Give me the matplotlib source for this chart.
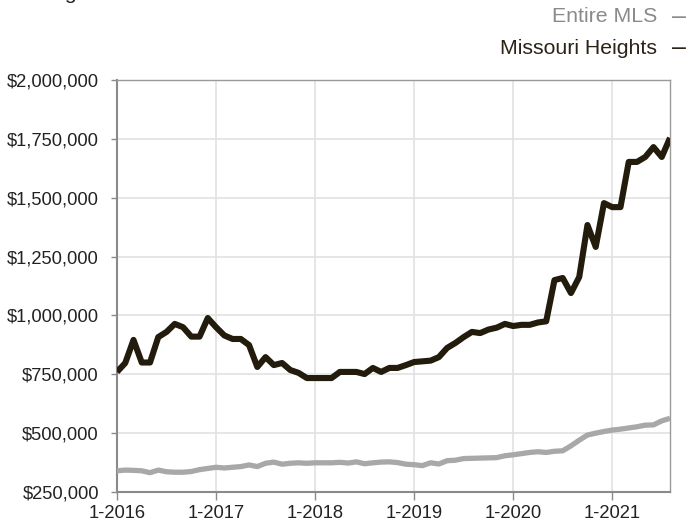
import matplotlib
matplotlib.use("Agg")
import matplotlib.pyplot as plt
from matplotlib.ticker import FuncFormatter

plt.rcParams["font.family"] = ["Liberation Sans", "DejaVu Sans"]

# Monthly median price, Jan 2016 .. Aug 2021
years = ["1-2016", "1-2017", "1-2018", "1-2019", "1-2020", "1-2021"]

missouri_heights = [
    760, 798, 896, 800, 800, 908, 930, 964, 950, 910, 910, 989,
    950, 915, 900, 900, 874, 781, 823, 789, 798, 768, 756, 734,
    734, 734, 734, 760, 760, 760, 751, 777, 760, 777, 777, 789,
    802, 805, 808, 823, 862, 883, 908, 930, 925, 940, 948, 964,
    955, 960, 960, 970, 975, 1150, 1159, 1095, 1163, 1384, 1291, 1477,
    1460, 1460, 1652, 1652, 1673, 1715, 1673, 1754,
]

entire_mls = [
    340, 343, 342, 340, 332, 343, 336, 334, 334, 337, 345, 350,
    355, 352, 355, 358, 365, 358, 372, 377, 368, 372, 374, 372,
    374, 374, 374, 376, 373, 378, 370, 374, 377, 378, 375, 368,
    366, 362, 374, 369, 383, 385, 392, 393, 394, 395, 396, 404,
    408, 413, 418, 421, 418, 423, 425, 446, 470, 492, 500, 507,
    513, 517, 522, 527, 534, 535, 552, 563,
]

months = list(range(len(missouri_heights)))
mh = [v * 1000 for v in missouri_heights]
mls = [v * 1000 for v in entire_mls]

W, H = 688, 525
fig = plt.figure(figsize=(W / 100, H / 100), dpi=100)
ax = fig.add_axes([117 / W, (H - 492) / H, (670 - 117) / W, (492 - 80) / H])

ax.plot(months, mls, color="#a8a8a8", lw=3.8, solid_joinstyle="round",
        solid_capstyle="butt", zorder=3)
ax.plot(months, mh, color="#231c0c", lw=4.4, solid_joinstyle="round",
        solid_capstyle="butt", zorder=4)

ax.set_xlim(0, len(months) - 1)
ax.set_ylim(250000, 2000000)
ax.set_xticks(list(range(0, len(months), 12)))
ax.set_xticklabels(years)
ax.set_yticks(range(250000, 2000001, 250000))
ax.yaxis.set_major_formatter(FuncFormatter(lambda v, p: f"${v:,.0f}"))

ax.grid(True, color="#e2e2e2", lw=1.2)
ax.set_axisbelow(True)
for side in ["top", "right"]:
    ax.spines[side].set_color("#9a9a9a")
    ax.spines[side].set_linewidth(1.0)
for side in ["left", "bottom"]:
    ax.spines[side].set_color("#8a8a8a")
    ax.spines[side].set_linewidth(1.5)

ax.tick_params(axis="y", length=4.5, width=1.0, color="#8a8a8a", pad=8.5,
               labelsize=13.2, labelcolor="#222222")
ax.tick_params(axis="x", length=6, width=1.0, color="#8a8a8a", pad=3,
               labelsize=13.2, labelcolor="#222222")

# cut-off title at the very top
fig.text(12 / W, 1 + 1 / H, "Rolling", color="#222222", fontsize=15.3,
         ha="left", va="baseline")
fig.text(95 / W, 1 + 1 / H, "12-month calculation", color="#8a8a8a",
         fontsize=15.3, ha="left", va="baseline")

# legend as right-aligned text
fig.text(657 / W, 1 - 17 / H, "Entire MLS", color="#8a8a8a", fontsize=15.3,
         ha="right", va="center")
fig.text(657 / W, 1 - 48 / H, "Missouri Heights", color="#2a2418",
         fontsize=15.3, ha="right", va="center")
fig.text(672 / W, 1 - 17 / H, "\u2013", color="#8a8a8a", fontsize=18,
         ha="left", va="center")
fig.text(672 / W, 1 - 48 / H, "\u2013", color="#2a2418", fontsize=18,
         ha="left", va="center")

fig.savefig("out.png", dpi=100)
